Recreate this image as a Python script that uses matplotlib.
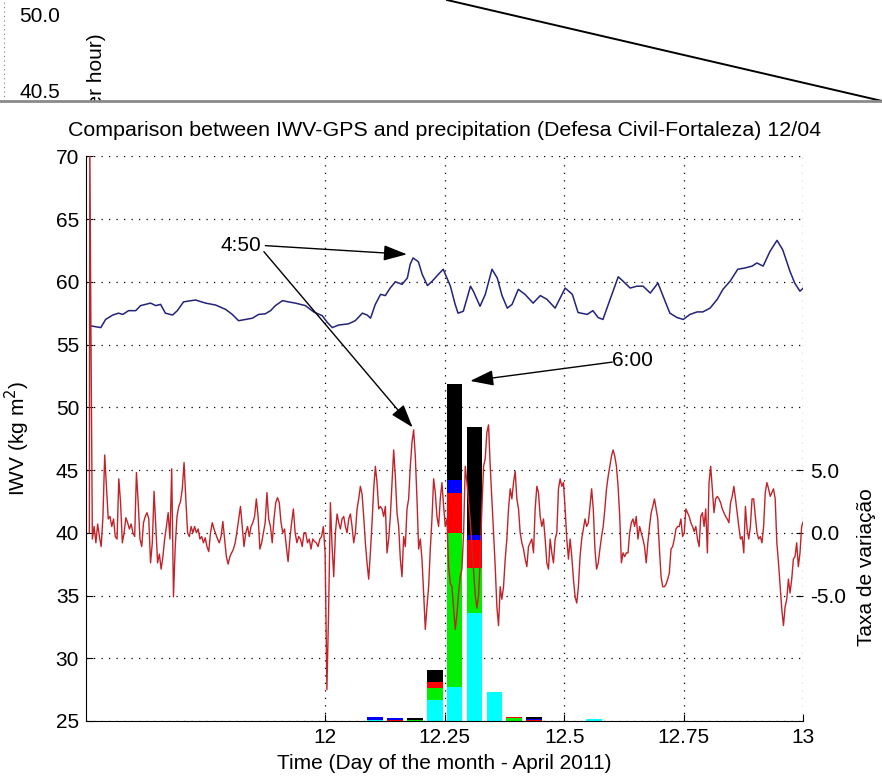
import numpy as np
import matplotlib
matplotlib.use('Agg')
import matplotlib.pyplot as plt
from matplotlib.lines import Line2D

plt.rcParams['font.family'] = ['Liberation Sans', 'DejaVu Sans']

# IWV-GPS (kg m2), eixo esquerdo
iwv_t = [11.508, 11.531, 11.541, 11.556, 11.568, 11.577, 11.589, 11.604, 11.614, 11.635,
         11.646, 11.656, 11.666, 11.681, 11.691, 11.704, 11.729, 11.750, 11.771, 11.792,
         11.806, 11.819, 11.834, 11.848, 11.861, 11.875, 11.886, 11.896, 11.911, 11.923,
         11.938, 11.959, 11.976, 11.994, 12.005, 12.015, 12.028, 12.049, 12.063, 12.078,
         12.088, 12.095, 12.105, 12.116, 12.126, 12.136, 12.147, 12.161, 12.172, 12.178,
         12.184, 12.195, 12.203, 12.214, 12.224, 12.237, 12.247, 12.262, 12.272, 12.278,
         12.289, 12.304, 12.310, 12.324, 12.335, 12.349, 12.360, 12.370, 12.381, 12.391,
         12.404, 12.418, 12.435, 12.450, 12.464, 12.481, 12.502, 12.517, 12.529, 12.548,
         12.560, 12.571, 12.581, 12.596, 12.613, 12.623, 12.638, 12.652, 12.665, 12.680,
         12.696, 12.711, 12.721, 12.736, 12.749, 12.763, 12.778, 12.790, 12.805, 12.820,
         12.832, 12.847, 12.863, 12.878, 12.893, 12.903, 12.916, 12.930, 12.945, 12.957,
         12.972, 12.982, 12.993, 13.000]
iwv_v = [56.5, 56.35, 57.0, 57.35, 57.5, 57.4, 57.7, 57.7, 58.1, 58.3,
         58.1, 58.2, 57.5, 57.35, 57.7, 58.4, 58.55, 58.3, 58.15, 57.8,
         57.4, 56.9, 57.0, 57.1, 57.4, 57.45, 57.7, 58.1, 58.5, 58.4,
         58.3, 58.1, 57.6, 57.3, 56.75, 56.35, 56.55, 56.65, 56.9, 57.5,
         57.35, 57.1, 58.2, 59.0, 58.9, 59.5, 60.0, 59.8, 60.3, 61.4,
         61.9, 61.6, 60.6, 59.7, 60.05, 60.6, 61.0, 59.65, 58.2, 57.5,
         57.65, 59.65, 59.25, 58.05, 59.0, 61.0, 60.3, 58.9, 57.9, 58.2,
         59.4, 59.0, 58.3, 58.9, 58.6, 57.9, 59.5, 59.0, 57.55, 57.4,
         57.7, 57.15, 57.0, 58.6, 60.4, 60.05, 59.5, 59.65, 59.65, 59.1,
         59.9, 58.45, 57.5, 57.15, 57.0, 57.4, 57.6, 57.6, 57.9, 58.6,
         59.4, 60.05, 61.0, 61.1, 61.25, 61.5, 61.25, 62.4, 63.3, 62.55,
         60.85, 59.9, 59.25, 59.5]

# Taxa de variacao, eixo direito (amostras de 5 min, em 4 trechos)
taxa_ini_t = [11.507, 11.508, 11.5105]
taxa_ini = [0.0, 31.0, 15.0]
taxa_a = [-0.5, 0.5, -0.8, 0.7, -0.3, -1.1, 1.3, 6.2, 3.7, 1.1,
          1.3, 0.5, 1.1, -0.3, -0.5, 4.3, 2.4, -0.8, 0.0, 1.2,
          0.8, 0.3, 0.7, 0.0, -0.3, 4.8, 2.4, -0.5, -1.1, 0.8,
          1.3, 1.6, 1.1, -2.4, -0.8, 3.3, 0.5, -2.4, -1.7, -2.9,
          -1.9, -0.5, 0.5, 1.6, -0.5, 5.1, -5.1, -1.1, 1.3, 2.1,
          2.5, 3.5, 5.6, 2.7, 0.0, -0.3, 0.5, 0.0, 0.5, 0.0,
          0.3, -0.5, -0.3, -0.8, -0.4, -1.1, -1.5, 0.0, 0.8, 0.3,
          -0.1, -0.5, -0.8, -0.3, 0.9, -0.5, -1.9, -2.5, -1.9, -1.6,
          -1.3, -0.8, 0.1, 1.1, 2.1, 0.5, -1.1, 0.0, 0.5, -0.3,
          0.5, 0.8, 1.3, 2.7, 1.3, -1.3, -0.8, 0.0, 0.8, 3.2,
          1.1, 0.5, -0.8, 1.1, 2.4, 2.8, 2.4, 0.8, 0.0, 0.3,
          -1.1, -2.3, -0.5, 0.8, 1.9, 0.0, -0.8, -0.3, -0.5, -1.1,
          0.0, 0.0, -0.8, -0.5, -1.3, -0.5, -0.7, -0.8, -1.1, -0.5,
          -0.3, 0.5, -1.6, -12.5, -6.1, 2.4]
taxa_b = [-1.1, -3.5, 0.0, 1.5, 0.8, 0.3, 1.1, 1.3, 0.5, 0.0,
          1.1, 1.5, 0.5, -0.8, 0.0, 1.9, 2.7, 3.7, 3.1, 1.3,
          -0.8, -2.4, -3.7, -1.6, 0.8, 3.5, 5.3, 4.0, 1.9, 2.1,
          1.9, 1.3, 2.1, -1.6, -0.5, 1.3, 4.0, 6.6, 4.5, 1.6,
          0.5, -2.1, -3.5, -0.3, -1.1, 1.9, 2.7, 5.3, 7.2, 8.2,
          6.1, 2.7, -1.3, -0.5, -2.1, -4.8, -7.7, -5.9, -4.3, -1.3,
          1.1, 4.3, 3.2, 1.3, 0.5, 2.7, 4.0, 2.1, 0.5, 1.1,
          -2.7, -4.0, -4.3, -6.0, -7.7, -6.5, -4.8, -3.5, -2.9, 0.0,
          5.3, 4.0, 2.5, 1.0, -1.0, -3.0, -5.0, -6.0, -5.0, -2.0,
          2.0, 5.3, 5.9, 8.0, 8.6, 5.3, 2.7, 0.0, -2.7, -5.9,
          -7.4, -4.3, -5.3, -4.3, -2.1, -0.5, 1.9, 3.5, 2.7, 4.0,
          4.9, 2.7, 1.9, 0.0, -0.8, -1.3, -2.1, -2.7, -1.1, -0.8,
          -0.5, -1.6, 1.9, 3.7, 3.2, 1.3, 0.5, 1.1, -0.5, -2.4,
          -2.9, -0.5, -1.6, -2.4, -0.5, 0.0, 3.5, 4.3, 3.7, 4.0,
          1.9, -0.5, -2.1]
taxa_c = [-0.5, -1.9, -3.7, -5.1, -5.6, -4.3, -1.9, -0.5, 0.3, 1.1,
          0.5, 0.8, 2.1, 3.5, 1.9, -1.3, -2.9, -2.4, -1.3, -0.3,
          0.5, 1.9, 3.5, 4.5, 5.3, 6.1, 6.6, 6.1, 5.3, 3.7,
          1.3, -2.4, -1.6, -1.9, -1.6, -1.6, 0.0, 0.8, 1.1, 0.5,
          1.3, -0.5, 0.5, 0.0, -0.5, -1.1, -2.4, -0.8, 0.5, 1.6,
          2.1, 2.7, 1.9, 1.1, -1.3, -3.5, -4.3, -4.3, -4.1, -3.7,
          -3.2, -1.3, -1.1, -0.5, 0.3, 0.5, 0.5, 1.1, -0.3, 0.0,
          1.9, 1.6, 1.3, 0.8, 0.5, 0.1, 0.5, -0.5, -1.1, 1.3,
          1.6, 0.5, 1.9, -1.6, 4.0, 5.3, 3.5, 1.6, 2.7, 2.9,
          2.7, 2.4, 1.9, 1.6, 1.3, 1.1, 0.8, 2.4, 2.9, 3.7,
          2.7, 1.6, 0.5, -0.5, -0.3, -1.6, 2.1, 0.3, -0.5, 0.5,
          2.7, 2.7, 1.3, 0.0, -0.5, -0.3, -0.8, 0.5, 3.2, 4.0,
          3.5, 2.9, 3.2, 3.5, 2.7, -0.8, -2.4, -4.3, -6.1, -7.4,
          -5.9, -5.3, -3.7, -4.8, -3.7, -2.1, -1.9, -0.8, -2.7, -1.6,
          0.5, 0.9]
# inicio e fim de cada trecho (dia)
trecho_a = (11.5133, 12.0111)
trecho_b = (12.0146, 12.5089)
trecho_c = (12.5124, 13.0)

# Precipitacao horaria (empilhada), base em 25
chuva_t = [12.1042, 12.1458, 12.1875, 12.2292, 12.2708, 12.3125, 12.3542, 12.3958, 12.4375, 12.5625]
chuva_ciano = [0.05, 0.0, 0.0, 1.67, 2.73, 8.58, 2.33, 0.0, 0.0, 0.15]
chuva_verde = [0.0, 0.0, 0.1, 0.93, 12.23, 3.59, 0.0, 0.25, 0.0, 0.0]
chuva_verm = [0.0, 0.05, 0.0, 0.53, 3.18, 2.25, 0.0, 0.05, 0.05, 0.0]
chuva_azul = [0.25, 0.15, 0.0, 0.0, 1.06, 0.40, 0.0, 0.0, 0.1, 0.0]
chuva_preto = [0.0, 0.0, 0.1, 0.93, 7.65, 8.57, 0.0, 0.0, 0.2, 0.0]

xticks = [12, 12.25, 12.5, 12.75, 13]
xlabels = ['12', '12.25', '12.5', '12.75', '13']
yticks = [25, 30, 35, 40, 45, 50, 55, 60, 65, 70]
y2ticks = [-5, 0, 5]
y2labels = ['-5.0', '0.0', '5.0']

FS = 15
W, H = 882, 783
fig = plt.figure(figsize=(W/100, H/100), dpi=100)

# restos da figura anterior (faixa superior)
top = fig.add_axes([0, 1-101/H, 1, 101/H])
top.set_xlim(0, 1)
top.set_ylim(0, 1)
top.axis('off')
top.text(40/W, 1-16/101, '50.0', fontsize=FS, ha='center', va='center')
top.text(40/W, 1-92/101, '40.5', fontsize=FS, ha='center', va='center')
top.text(97/W, 1-33/101, 'per hour)', fontsize=FS, rotation=90, ha='center', va='top', clip_on=True)
top.plot([447/W, 1], [1, 0], color='k', lw=1.4)
top.plot([4/W, 4/W], [0, 1], color='gray', lw=0.8, ls=(0, (1, 3)))
fig.add_artist(Line2D([0, 1], [1-101/H, 1-101/H], color='#8a8a8a', lw=2))

ax = fig.add_axes([86/W, 62/H, 717.3/W, 564.7/H])
ax.set_xlim(11.5, 13)
ax.set_ylim(25, 70)

fundo = np.full(len(chuva_t), 25.0)
for h, c in [(chuva_ciano, '#00ffff'), (chuva_verde, '#00ee00'), (chuva_verm, '#ff0000'),
             (chuva_azul, '#0000ff'), (chuva_preto, '#000000')]:
    ax.bar(chuva_t, h, width=0.033, bottom=fundo, color=c, linewidth=0, zorder=2)
    fundo = fundo + np.array(h)

ax.plot(iwv_t, iwv_v, color='#23237a', lw=1.1, zorder=3)

ax.set_xticks(xticks)
ax.set_xticklabels(xlabels)
ax.set_yticks(yticks)
ax.tick_params(direction='in', length=5, labelsize=FS, top=False, right=False, pad=5)
ax.grid(True, color='k', linestyle=(0, (1, 5)), linewidth=0.9)
ax.spines['top'].set_visible(False)
ax.spines['right'].set_visible(False)
ax.set_ylabel('IWV (kg m$^2$)', fontsize=FS)
ax.yaxis.set_label_coords(-0.075, 0.5)
ax.set_xlabel('Time (Day of the month - April 2011)', fontsize=FS)
ax.xaxis.set_label_coords(0.5, -0.058)

ax2 = ax.twinx()
ax2.set_ylim(-15, 30)
t_taxa = np.concatenate([taxa_ini_t,
                         np.linspace(trecho_a[0], trecho_a[1], len(taxa_a)),
                         np.linspace(trecho_b[0], trecho_b[1], len(taxa_b)),
                         np.linspace(trecho_c[0], trecho_c[1], len(taxa_c))])
v_taxa = taxa_ini + taxa_a + taxa_b + taxa_c
ax2.plot(t_taxa, v_taxa, color='#c0242a', lw=1.0)
ax2.set_yticks(y2ticks)
ax2.set_yticklabels(y2labels)
ax2.tick_params(direction='in', length=5, labelsize=FS, pad=5)
for s in ax2.spines.values():
    s.set_visible(False)

seta = dict(arrowstyle='-|>,head_length=0.9,head_width=0.3', color='k', lw=1.0,
            mutation_scale=16, shrinkA=0, shrinkB=0)
ax2.annotate('', xy=(12.171, 62.19), xycoords=ax.transData,
             xytext=(11.875, 62.88), textcoords=ax.transData, arrowprops=seta)
ax2.annotate('', xy=(12.183, 48.4), xycoords=ax.transData,
             xytext=(11.872, 62.4), textcoords=ax.transData, arrowprops=seta)
ax2.annotate('', xy=(12.3035, 52.1), xycoords=ax.transData,
             xytext=(12.6005, 53.6), textcoords=ax.transData, arrowprops=seta)
ax2.text(11.823, 62.9, '4:50', transform=ax.transData, fontsize=FS, ha='center', va='center')
ax2.text(12.642, 53.7, '6:00', transform=ax.transData, fontsize=FS, ha='center', va='center')

fig.text(444.6/W, 1-131/H, 'Comparison between IWV-GPS and precipitation (Defesa Civil-Fortaleza) 12/04',
         fontsize=15.4, ha='center', va='center')
fig.text(867/W, 1-567/H, 'Taxa de variação', fontsize=FS, rotation=90, ha='center', va='center')

fig.savefig('out.png', dpi=100)
